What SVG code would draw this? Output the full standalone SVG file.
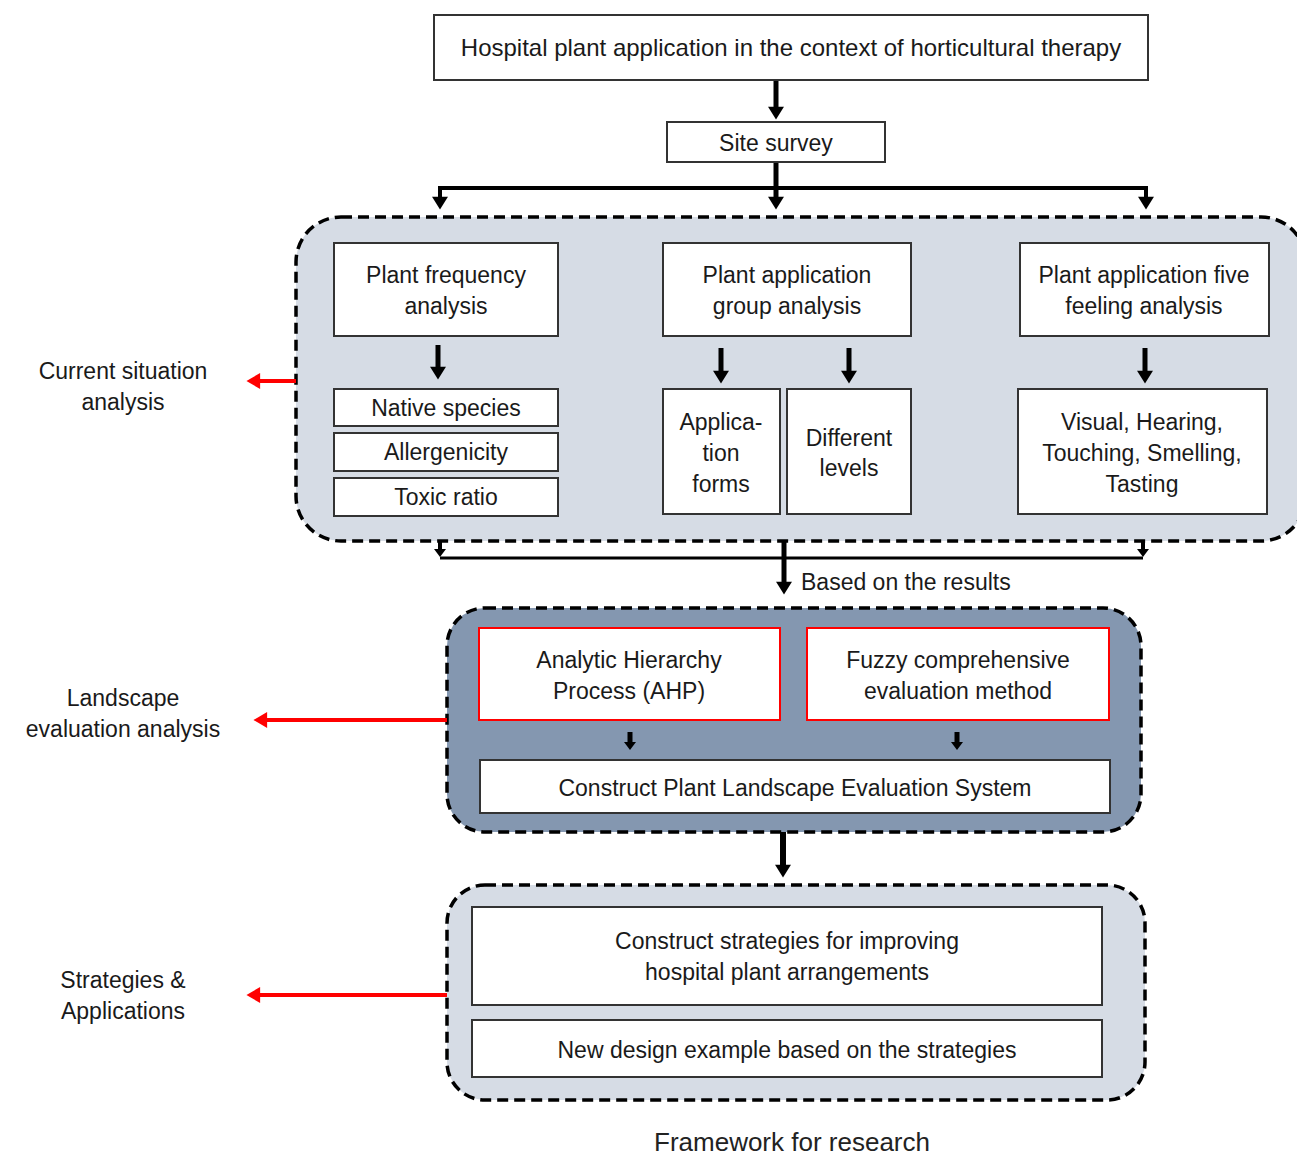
<svg xmlns="http://www.w3.org/2000/svg" width="1297" height="1155" viewBox="0 0 1297 1155">
<style>
  text { font-family: "Liberation Sans", Arial, sans-serif; font-size: 23px; fill: #1a1a1a; text-anchor: middle; }
  .box { fill: #ffffff; stroke: #333333; stroke-width: 2; }
  .rbox { fill: #ffffff; stroke: #ff0000; stroke-width: 2; }
  .cont { stroke: #000000; stroke-width: 3.5; stroke-dasharray: 11 6; }
  .light { fill: #d6dce5; }
  .dark { fill: #8497b0; }
  .conn { stroke: #000000; fill: none; }
  .red { stroke: #ff0000; stroke-width: 4; fill: none; }
</style>
<defs>
  <marker id="ab" markerUnits="userSpaceOnUse" markerWidth="16" markerHeight="16" viewBox="0 0 12 14" refX="1" refY="7" orient="auto">
    <path d="M0,0 L11,7 L0,14 z" fill="#000"/>
  </marker>
  <marker id="abs" markerUnits="userSpaceOnUse" markerWidth="12" markerHeight="12" viewBox="0 0 8 12" refX="1" refY="6" orient="auto">
    <path d="M0,0 L8,6 L0,12 z" fill="#000"/>
  </marker>
  <marker id="ar" markerUnits="userSpaceOnUse" markerWidth="16" markerHeight="16" viewBox="0 0 12 14" refX="1" refY="7" orient="auto">
    <path d="M0,0 L12,7 L0,14 z" fill="#ff0000"/>
  </marker>
</defs>

<!-- containers -->
<g id="container-current">
  <rect class="cont light" x="296" y="217" width="1010" height="324" rx="45" ry="45"/>
</g>
<g id="container-landscape">
  <rect class="cont dark" x="447" y="608" width="694" height="224" rx="38" ry="38"/>
</g>
<g id="container-strategies">
  <rect class="cont light" x="447" y="885" width="698" height="215" rx="38" ry="38"/>
</g>

<!-- connectors -->
<g id="connectors">
  <line class="conn" stroke-width="5" x1="776" y1="80" x2="776" y2="108" marker-end="url(#ab)"/>
  <line class="conn" stroke-width="5" x1="776" y1="162" x2="776" y2="198" marker-end="url(#ab)"/>
  <path class="conn" stroke-width="4" d="M440,199 L440,188 L1146,188 L1146,199"/>
  <line class="conn" stroke-width="4" x1="440" y1="190" x2="440" y2="198" marker-end="url(#ab)"/>
  <line class="conn" stroke-width="4" x1="1146" y1="190" x2="1146" y2="198" marker-end="url(#ab)"/>

  <line class="conn" stroke-width="5" x1="438" y1="345" x2="438" y2="368" marker-end="url(#ab)"/>
  <line class="conn" stroke-width="5" x1="721" y1="348" x2="721" y2="372" marker-end="url(#ab)"/>
  <line class="conn" stroke-width="5" x1="849" y1="348" x2="849" y2="372" marker-end="url(#ab)"/>
  <line class="conn" stroke-width="5" x1="1145" y1="348" x2="1145" y2="372" marker-end="url(#ab)"/>

  <line class="conn" stroke-width="4" x1="440" y1="541" x2="440" y2="550" marker-end="url(#abs)"/>
  <line class="conn" stroke-width="4" x1="1143" y1="541" x2="1143" y2="550" marker-end="url(#abs)"/>
  <line class="conn" stroke-width="3" x1="440" y1="558" x2="1143" y2="558"/>
  <line class="conn" stroke-width="5" x1="784" y1="541" x2="784" y2="583" marker-end="url(#ab)"/>

  <line class="conn" stroke-width="5" x1="630" y1="732" x2="630" y2="743" marker-end="url(#abs)"/>
  <line class="conn" stroke-width="5" x1="957" y1="732" x2="957" y2="743" marker-end="url(#abs)"/>

  <line class="conn" stroke-width="6" x1="783" y1="832" x2="783" y2="866" marker-end="url(#ab)"/>

  <line class="red" x1="296" y1="381" x2="259" y2="381" marker-end="url(#ar)"/>
  <line class="red" x1="447" y1="720" x2="266" y2="720" marker-end="url(#ar)"/>
  <line class="red" x1="447" y1="995" x2="259" y2="995" marker-end="url(#ar)"/>
</g>

<!-- nodes -->
<g id="n-top">
  <rect class="box" x="434" y="15" width="714" height="65"/>
  <text x="791" y="56" style="font-size:24px">Hospital plant application in the context of horticultural therapy</text>
</g>
<g id="n-site">
  <rect class="box" x="667" y="122" width="218" height="40"/>
  <text x="776" y="151">Site survey</text>
</g>
<g id="n-freq">
  <rect class="box" x="334" y="243" width="224" height="93"/>
  <text x="446" y="283">Plant frequency</text>
  <text x="446" y="314">analysis</text>
</g>
<g id="n-group">
  <rect class="box" x="663" y="243" width="248" height="93"/>
  <text x="787" y="283">Plant application</text>
  <text x="787" y="314">group analysis</text>
</g>
<g id="n-five">
  <rect class="box" x="1020" y="243" width="249" height="93"/>
  <text x="1144" y="283">Plant application five</text>
  <text x="1144" y="314">feeling analysis</text>
</g>
<g id="n-native">
  <rect class="box" x="334" y="389" width="224" height="37"/>
  <text x="446" y="416">Native species</text>
</g>
<g id="n-allergen">
  <rect class="box" x="334" y="433" width="224" height="38"/>
  <text x="446" y="460">Allergenicity</text>
</g>
<g id="n-toxic">
  <rect class="box" x="334" y="478" width="224" height="38"/>
  <text x="446" y="505">Toxic ratio</text>
</g>
<g id="n-forms">
  <rect class="box" x="663" y="389" width="117" height="125"/>
  <text x="721" y="430">Applica-</text>
  <text x="721" y="461">tion</text>
  <text x="721" y="492">forms</text>
</g>
<g id="n-levels">
  <rect class="box" x="787" y="389" width="124" height="125"/>
  <text x="849" y="446">Different</text>
  <text x="849" y="476">levels</text>
</g>
<g id="n-senses">
  <rect class="box" x="1018" y="389" width="249" height="125"/>
  <text x="1142" y="430">Visual, Hearing,</text>
  <text x="1142" y="461">Touching, Smelling,</text>
  <text x="1142" y="492">Tasting</text>
</g>
<g id="n-ahp">
  <rect class="rbox" x="479" y="628" width="301" height="92"/>
  <text x="629" y="668">Analytic Hierarchy</text>
  <text x="629" y="699">Process (AHP)</text>
</g>
<g id="n-fuzzy">
  <rect class="rbox" x="807" y="628" width="302" height="92"/>
  <text x="958" y="668">Fuzzy comprehensive</text>
  <text x="958" y="699">evaluation method</text>
</g>
<g id="n-system">
  <rect class="box" x="480" y="760" width="630" height="53"/>
  <text x="795" y="796">Construct Plant Landscape Evaluation System</text>
</g>
<g id="n-strategies">
  <rect class="box" x="472" y="907" width="630" height="98"/>
  <text x="787" y="949">Construct strategies for improving</text>
  <text x="787" y="980">hospital plant arrangements</text>
</g>
<g id="n-example">
  <rect class="box" x="472" y="1020" width="630" height="57"/>
  <text x="787" y="1058">New design example based on the strategies</text>
</g>

<!-- side labels -->
<g id="l-current">
  <text x="123" y="379">Current situation</text>
  <text x="123" y="410">analysis</text>
</g>
<g id="l-based">
  <text x="801" y="590" style="text-anchor:start">Based on the results</text>
</g>
<g id="l-landscape">
  <text x="123" y="706">Landscape</text>
  <text x="123" y="737">evaluation analysis</text>
</g>
<g id="l-strategies">
  <text x="123" y="988">Strategies &amp;</text>
  <text x="123" y="1019">Applications</text>
</g>
<g id="caption">
  <text x="792" y="1151" style="font-size:26px;fill:#222">Framework for research</text>
</g>
</svg>
